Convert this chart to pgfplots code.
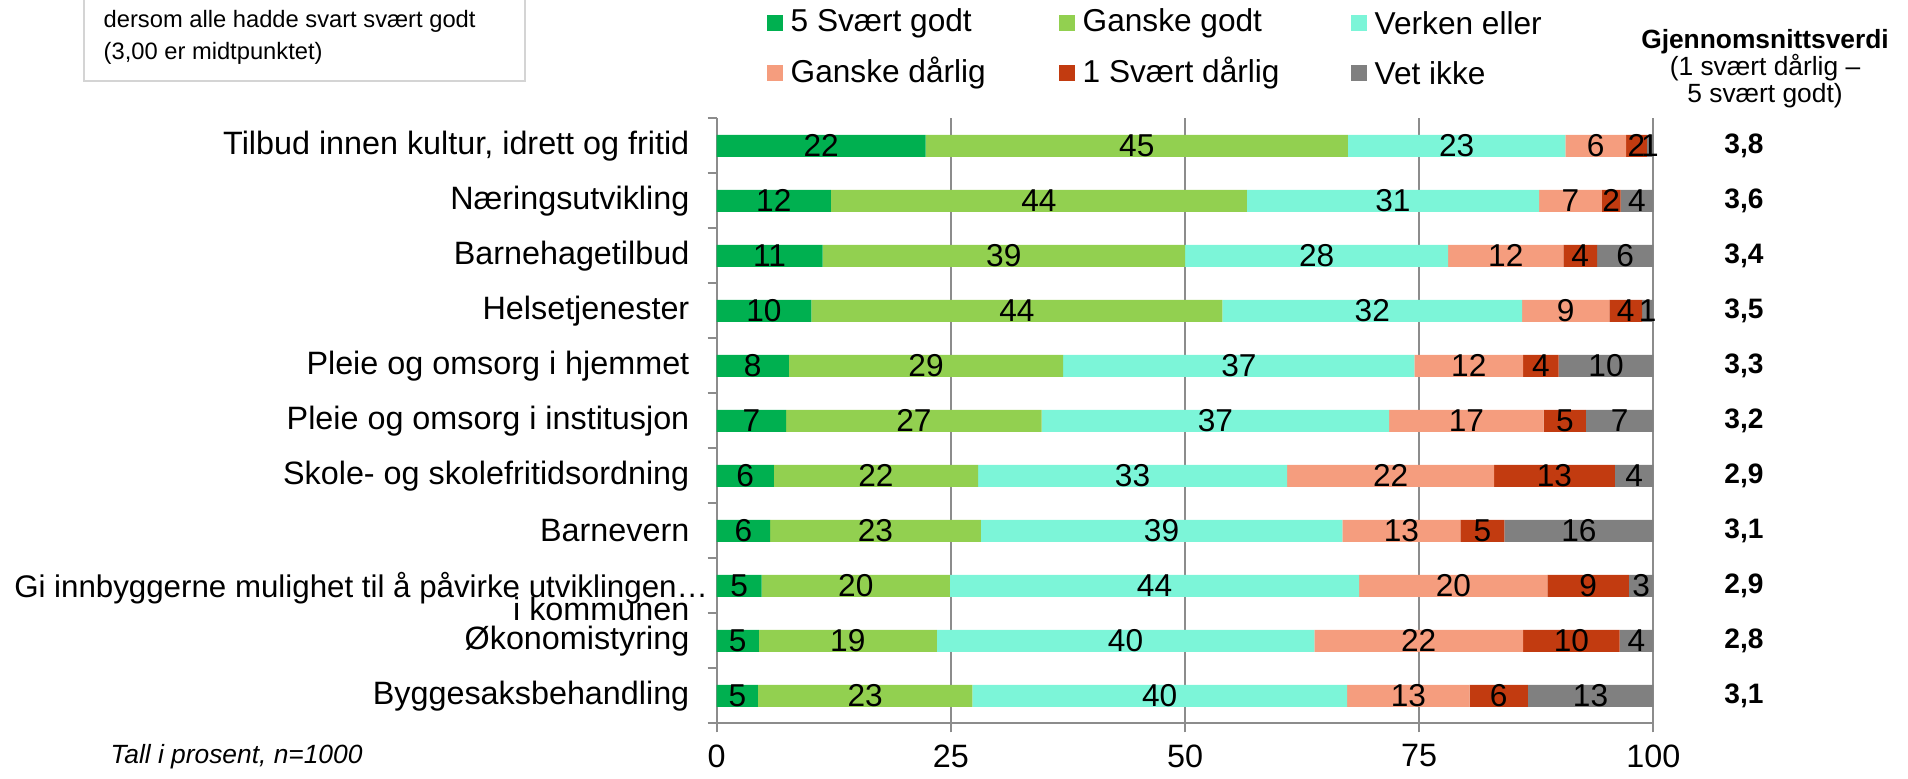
\documentclass[border=0pt]{standalone}
\usepackage{fontspec}
\setmainfont{Liberation Sans}
\usepackage{pgfplots}
\usepackage{pgfplotstable}
\pgfplotsset{compat=1.18}

\definecolor{c5}{HTML}{00B050}
\definecolor{c4}{HTML}{92D050}
\definecolor{c3}{HTML}{7CF5D8}
\definecolor{c2}{HTML}{F59D7E}
\definecolor{c1}{HTML}{C23B10}
\definecolor{cv}{HTML}{808080}
\definecolor{axgray}{HTML}{8C8C8C}
\definecolor{boxgray}{HTML}{D4D4D4}

% y = 10 - rad (øverste kategori har y=10)
\pgfplotstableread{
y  a    b    c    d    e    f    la lb lc ld le lf
10 22.3 45.1 23.2 6.5  2.2  0.7  22 45 23 6  2  1
9  12.2 44.4 31.2 6.7  2.0  3.5  12 44 31 7  2  4
8  11.3 38.7 28.1 12.3 3.6  6.0  11 39 28 12 4  6
7  10.1 43.9 32.0 9.3  3.5  1.2  10 44 32 9  4  1
6  7.7  29.3 37.5 11.6 3.8  10.1 8  29 37 12 4  10
5  7.4  27.3 37.1 16.5 4.5  7.2  7  27 37 17 5  7
4  6.1  21.8 33.0 22.1 12.9 4.1  6  22 33 22 13 4
3  5.7  22.5 38.6 12.6 4.7  15.9 6  23 39 13 5  16
2  4.8  20.1 43.7 20.1 8.7  2.6  5  20 44 20 9  3
1  4.5  19.0 40.3 22.3 10.3 3.6  5  19 40 22 10 4
0  4.4  22.9 40.0 13.1 6.2  13.4 5  23 40 13 6  13
}\data
% midtpunkt for etikettene
\pgfplotstablecreatecol[expr={\thisrow{a}/2}]{ma}\data
\pgfplotstablecreatecol[expr={\thisrow{a}+\thisrow{b}/2}]{mb}\data
\pgfplotstablecreatecol[expr={\thisrow{a}+\thisrow{b}+\thisrow{c}/2}]{mc}\data
\pgfplotstablecreatecol[expr={\thisrow{a}+\thisrow{b}+\thisrow{c}+\thisrow{d}/2}]{md}\data
\pgfplotstablecreatecol[expr={\thisrow{a}+\thisrow{b}+\thisrow{c}+\thisrow{d}+\thisrow{e}/2}]{me}\data
\pgfplotstablecreatecol[expr={\thisrow{a}+\thisrow{b}+\thisrow{c}+\thisrow{d}+\thisrow{e}+\thisrow{f}/2}]{mf}\data

\pgfplotsset{samebox/.style={
    at={(7.167cm,0.547cm)}, anchor=south west,
    scale only axis, width=9.366cm, height=6.05cm,
    xmin=0, xmax=100, ymin=-0.5, ymax=10.5}}

\begin{document}
\begin{tikzpicture}
\useasboundingbox (0,0) rectangle (19.08,7.78);
\begin{axis}[
    samebox,
    xbar stacked, bar width=0.22cm,
    axis x line*=bottom, axis y line*=left,
    axis line style={axgray, line width=0.6pt},
    tick style={axgray, line width=0.6pt},
    tick align=outside, major tick length=0.09cm,
    xtick={0,25,50,75,100}, xticklabels={0,25,50,75,100},
    xmajorgrids, grid style={axgray, line width=0.6pt},
    ytick={-0.5,0.5,...,10.5}, yticklabels={},
    extra y ticks={0,...,10},
    extra y tick labels={Byggesaksbehandling, Økonomistyring, {}, Barnevern,
        Skole- og skolefritidsordning, Pleie og omsorg i institusjon,
        Pleie og omsorg i hjemmet, Helsetjenester, Barnehagetilbud,
        Næringsutvikling, {Tilbud innen kultur, idrett og fritid}},
    extra y tick style={major tick length=0pt,
        yticklabel style={font=\fontsize{9.2}{11}\selectfont, anchor=east, inner sep=0pt, xshift=-0.267cm}},
    xticklabel style={font=\fontsize{9.2}{11}\selectfont},
]
\addplot[fill=c5, draw=none] table[x=a, y=y]{\data};
\addplot[fill=c4, draw=none] table[x=b, y=y]{\data};
\addplot[fill=c3, draw=none] table[x=c, y=y]{\data};
\addplot[fill=c2, draw=none] table[x=d, y=y]{\data};
\addplot[fill=c1, draw=none] table[x=e, y=y]{\data};
\addplot[fill=cv, draw=none] table[x=f, y=y]{\data};
\end{axis}

% etiketter midt i hvert segment
\begin{axis}[samebox, hide axis, clip=false,
    nodes near coords, point meta=explicit symbolic,
    every node near coord/.append style={font=\fontsize{9}{10.8}\selectfont, text=black, anchor=center, inner sep=0pt},
    every axis plot/.append style={only marks, mark size=0pt, mark options={draw=none, fill=none}}]
\addplot table[x=ma, y=y, meta=la]{\data};
\addplot table[x=mb, y=y, meta=lb]{\data};
\addplot table[x=mc, y=y, meta=lc]{\data};
\addplot table[x=md, y=y, meta=ld]{\data};
\addplot table[x=me, y=y, meta=le]{\data};
\addplot table[x=mf, y=y, meta=lf]{\data};
% to-linjers kategori
\node[anchor=east, inner sep=0pt, font=\fontsize{8.9}{10.7}\selectfont] at (axis cs:0,2) [xshift=-0.08cm, yshift=-0.02cm] {Gi innbyggerne mulighet til å påvirke utviklingen…};
\node[anchor=east, inner sep=0pt, font=\fontsize{9.2}{11}\selectfont] at (axis cs:0,2) [xshift=-0.267cm, yshift=-0.23cm] {i kommunen};
\end{axis}

% gjennomsnitt (rad-avstand 0.55 cm)
\foreach \v [count=\i from 0] in {3{,}8, 3{,}6, 3{,}4, 3{,}5, 3{,}3, 3{,}2, 2{,}9, 3{,}1, 2{,}9, 2{,}8, 3{,}1}
  \node[font=\fontsize{8}{9.6}\selectfont\bfseries] at (17.44, 6.597-0.275-\i*0.55) {\v};

\node[align=center, font=\fontsize{7.5}{7.7}\selectfont] at (17.65,7.09)
    {\textbf{Gjennomsnittsverdi}\\(1 svært dårlig –\\5 svært godt)};

% forklaring
\foreach \c/\t [count=\i from 0] in {c5/5 Svært godt, c4/Ganske godt, c3/Verken eller,
                                      c2/Ganske dårlig, c1/1 Svært dårlig, cv/Vet ikke} {
  \pgfmathsetmacro\lx{7.67+mod(\i,3)*2.92}
  \pgfmathsetmacro\ly{7.55-floor(\i/3)*0.5}
  \fill[\c] (\lx,\ly-0.08) rectangle ++(0.16,0.16);
  \node[anchor=west, inner sep=0pt, font=\fontsize{9}{10.8}\selectfont] at (\lx+0.23,\ly) {\t};
}

\draw[boxgray, line width=0.7pt] (0.84,6.97) rectangle (5.25,7.95);
\node[anchor=west, inner sep=0pt, font=\fontsize{6.75}{8}\selectfont] at (1.03,7.57) {dersom alle hadde svart svært godt};
\node[anchor=west, inner sep=0pt, font=\fontsize{6.75}{8}\selectfont] at (1.03,7.25) {(3,00 er midtpunktet)};

\node[anchor=west, inner sep=0pt, font=\fontsize{7.5}{9}\selectfont\itshape] at (1.10,0.21) {Tall i prosent, n=1000};
\end{tikzpicture}
\end{document}
